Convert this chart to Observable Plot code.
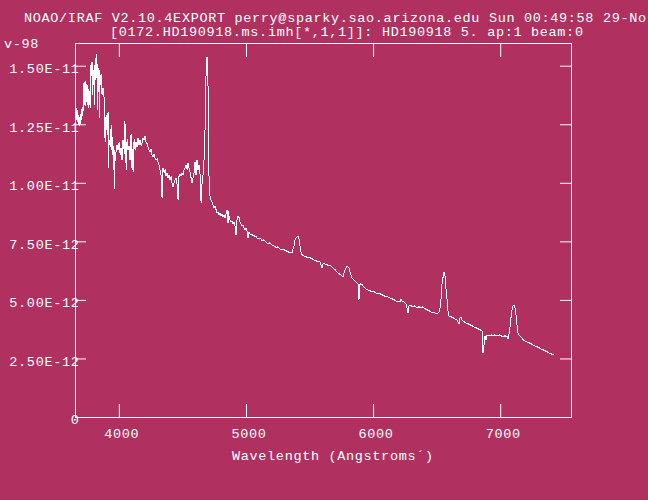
<!DOCTYPE html>
<html><head><meta charset="utf-8">
<script src="https://cdn.jsdelivr.net/npm/d3@7"></script>
<script src="https://cdn.jsdelivr.net/npm/@observablehq/plot@0.6"></script>
<style>
html,body{margin:0;padding:0;background:#b03060;width:648px;height:500px;overflow:hidden;}
#wrap{position:relative;width:648px;height:500px;}
#wrap svg{position:absolute;left:0;top:0;}
.t{position:absolute;font-family:"Liberation Mono",monospace;font-size:13.5px;line-height:13.5px;letter-spacing:0.67px;color:#fff;white-space:pre;}
</style></head><body><div id="wrap"></div>
<script>
const titleLine1 = "NOAO/IRAF V2.10.4EXPORT perry@sparky.sao.arizona.edu Sun 00:49:58 29-No";
const titleLine1Wrap = "v-98";
const titleLine2 = "[0172.HD190918.ms.imh[*,1,1]]: HD190918 5. ap:1 beam:0";
const xLabel = "Wavelength (Angstroms\u00b4)";
const xTicks = [4000, 5000, 6000, 7000];
const yTicks = [0, 2.5, 5, 7.5, 10, 12.5, 15]; // units of 1e-12
const wavelength = [3659,3663,3667,3671,3675,3679,3683,3687,3691,3695,3699,3703,3707,3711,3714,3718,3722,3726,3730,3734,3738,3742,3746,3750,3754,3758,3762,3766,3770,3773,3777,3781,3785,3789,3793,3797,3801,3805,3809,3813,3817,3821,3825,3829,3832,3836,3840,3844,3848,3852,3856,3864,3872,3880,3884,3888,3891,3895,3903,3907,3911,3915,3919,3927,3931,3935,3939,3943,3947,3950,3954,3958,3962,3966,3974,3982,3990,3998,4006,4013,4021,4029,4037,4041,4045,4049,4053,4061,4068,4076,4084,4092,4100,4104,4108,4116,4124,4131,4139,4147,4155,4163,4171,4179,4186,4194,4202,4210,4218,4226,4234,4242,4249,4257,4265,4273,4281,4289,4297,4304,4312,4320,4328,4336,4340,4344,4352,4360,4367,4375,4383,4391,4399,4407,4415,4422,4430,4438,4446,4454,4462,4466,4470,4477,4485,4493,4501,4509,4517,4525,4533,4540,4548,4556,4564,4572,4580,4588,4595,4603,4611,4619,4627,4635,4643,4651,4658,4666,4674,4678,4682,4686,4690,4694,4698,4702,4706,4713,4721,4729,4737,4745,4753,4761,4769,4776,4784,4792,4800,4808,4816,4824,4831,4839,4847,4855,4859,4863,4871,4879,4886,4894,4902,4910,4918,4922,4926,4934,4942,4949,4957,4965,4973,4981,4989,4997,5004,5012,5020,5028,5044,5060,5075,5091,5107,5122,5138,5154,5170,5185,5201,5217,5233,5248,5264,5280,5296,5311,5327,5343,5358,5374,5382,5390,5398,5406,5414,5421,5429,5437,5453,5469,5484,5500,5516,5532,5547,5563,5579,5594,5602,5618,5634,5650,5665,5681,5697,5712,5728,5744,5760,5775,5791,5807,5815,5830,5846,5862,5878,5885,5893,5909,5925,5941,5956,5972,5988,6003,6019,6035,6051,6066,6082,6098,6114,6129,6145,6161,6177,6192,6208,6216,6224,6239,6255,6271,6279,6295,6310,6326,6342,6357,6373,6389,6405,6420,6436,6452,6468,6483,6499,6515,6523,6530,6538,6546,6554,6562,6570,6578,6586,6593,6609,6625,6641,6656,6672,6680,6688,6696,6711,6727,6743,6759,6774,6790,6806,6822,6837,6853,6861,6869,6877,6884,6892,6908,6924,6940,6955,6971,6987,7002,7018,7034,7050,7058,7065,7073,7081,7089,7097,7105,7113,7120,7128,7136,7144,7160,7176,7191,7207,7223,7238,7254,7270,7286,7301,7317,7333,7349,7364,7380,7396,7412];
const flux = [13.22,12.71,13.14,12.80,12.63,12.88,12.46,12.80,12.54,12.93,12.71,13.14,12.88,13.22,13.05,14.25,13.57,14.29,13.31,14.34,13.78,14.21,13.40,14.16,13.22,13.99,13.57,13.91,13.22,14.63,15.06,14.59,15.19,13.78,14.85,14.21,14.63,13.35,15.27,14.42,15.53,14.51,15.10,13.14,14.97,13.91,14.85,12.80,14.63,14.21,14.68,13.78,14.08,13.65,12.71,11.77,12.80,12.29,12.93,12.07,13.05,10.66,11.86,11.64,12.29,11.43,12.46,11.86,11.22,11.64,10.58,11.43,9.77,11.00,11.35,11.64,11.43,11.77,11.22,11.52,11.00,11.86,11.43,12.63,11.09,12.50,10.58,11.86,11.43,11.60,11.00,12.11,10.58,11.43,10.49,11.86,11.43,11.77,11.56,11.94,11.64,11.86,11.60,11.73,11.94,11.86,12.03,11.77,11.69,11.56,11.43,11.35,11.47,11.22,11.13,11.26,11.09,11.00,11.05,10.92,10.79,10.58,10.36,9.38,10.49,10.66,10.45,10.58,10.32,10.45,10.24,10.36,10.15,10.28,9.98,9.85,10.02,10.15,10.24,9.94,9.30,10.15,10.32,10.41,10.32,10.45,10.36,10.58,10.66,10.79,10.58,10.88,10.66,10.49,10.24,10.02,10.24,10.45,10.92,10.36,11.00,10.58,10.79,10.36,9.17,10.06,10.36,11.00,12.29,13.57,14.63,15.27,15.40,15.19,13.99,11.86,10.02,9.47,9.30,9.21,9.08,8.95,9.04,8.87,8.74,8.78,8.65,8.74,8.61,8.70,8.57,8.65,8.53,8.70,8.87,8.31,8.78,8.61,8.44,8.36,8.40,8.27,8.36,8.19,7.80,8.36,8.44,8.61,8.53,8.36,8.27,8.19,8.23,8.10,8.01,8.10,7.97,7.67,7.93,7.84,7.80,7.76,7.72,7.63,7.67,7.55,7.59,7.50,7.42,7.46,7.37,7.33,7.25,7.29,7.20,7.16,7.16,7.12,7.08,7.03,7.03,7.33,7.59,7.67,7.72,7.76,7.59,7.33,7.08,6.95,6.90,6.86,6.82,6.82,6.78,6.73,6.69,6.65,6.65,6.39,6.56,6.56,6.52,6.48,6.48,6.39,6.31,6.22,6.14,6.09,6.01,6.31,6.48,6.39,6.22,5.97,5.88,5.79,5.71,5.03,5.71,5.67,5.58,5.49,5.45,5.41,5.37,5.37,5.32,5.28,5.28,5.24,5.20,5.15,5.15,5.11,5.07,5.03,4.98,4.94,4.94,5.07,4.98,4.94,4.85,4.47,4.77,4.77,4.73,4.77,4.68,4.73,4.68,4.73,4.64,4.60,4.56,4.51,4.47,4.47,4.43,4.51,4.68,5.03,5.67,5.97,6.22,6.05,5.45,5.03,4.51,4.34,4.30,4.26,4.21,4.17,4.00,4.26,4.30,4.17,4.09,4.04,4.00,3.96,3.92,3.87,3.83,3.79,3.75,3.70,2.76,3.10,3.49,3.32,3.53,3.49,3.53,3.49,3.53,3.49,3.53,3.49,3.45,3.49,3.45,3.36,3.53,3.87,4.26,4.60,4.77,4.81,4.68,4.39,3.96,3.62,3.53,3.45,3.32,3.27,3.23,3.19,3.15,3.10,3.06,3.02,2.98,2.93,2.89,2.85,2.81,2.76,2.72,2.68];

const data = wavelength.map((w, i) => ({w, f: flux[i]}));
const fmt = d => d === 0 ? "0" : (d * 1e-12).toExponential(2).toUpperCase();

const chart = Plot.plot({
  width: 648, height: 500,
  marginLeft: 75, marginRight: 77, marginTop: 43, marginBottom: 83,
  style: {background: "transparent", color: "#fff", fontFamily: "'Liberation Mono', monospace", fontSize: "13.5px", letterSpacing: "0.67px"},
  x: {domain: [3655, 7557]},
  y: {domain: [0, 15.97]},
  marks: [
    Plot.frame({stroke: "#fff"}),
    Plot.axisX(xTicks, {anchor: "bottom", tickSize: -13, fill: "none", stroke: "#fff", label: null}),
    Plot.axisX(xTicks, {anchor: "top", tickSize: -13, fill: "none", stroke: "#fff", label: null}),
    Plot.axisX(xTicks, {anchor: "bottom", tickSize: 0, tickPadding: 11, dx: 2.5, fill: "#fff", tickFormat: d => String(d), label: null}),
    Plot.axisY(yTicks, {anchor: "left", tickSize: -11, fill: "none", stroke: "#fff", label: null}),
    Plot.axisY(yTicks, {anchor: "right", tickSize: -12, fill: "none", stroke: "#fff", label: null}),
    Plot.axisY(yTicks, {anchor: "left", tickSize: 0, tickPadding: -4, dy: 2.5, tickFormat: fmt, fill: "#fff", label: null}),
    Plot.line(data, {x: "w", y: "f", stroke: "#fff", strokeWidth: 1, shapeRendering: "crispEdges"})
  ]
});
const wrap = document.getElementById("wrap");
wrap.appendChild(chart);
function addText(txt, left, top) {
  const d = document.createElement("div");
  d.className = "t";
  d.textContent = txt;
  d.style.left = left + "px";
  d.style.top = top + "px";
  wrap.appendChild(d);
}
addText(titleLine1, 24, 12.4);
addText(titleLine2, 110, 26.4);
addText(titleLine1Wrap, 4, 38);
addText(xLabel, 232, 450.4);
</script></body></html>
